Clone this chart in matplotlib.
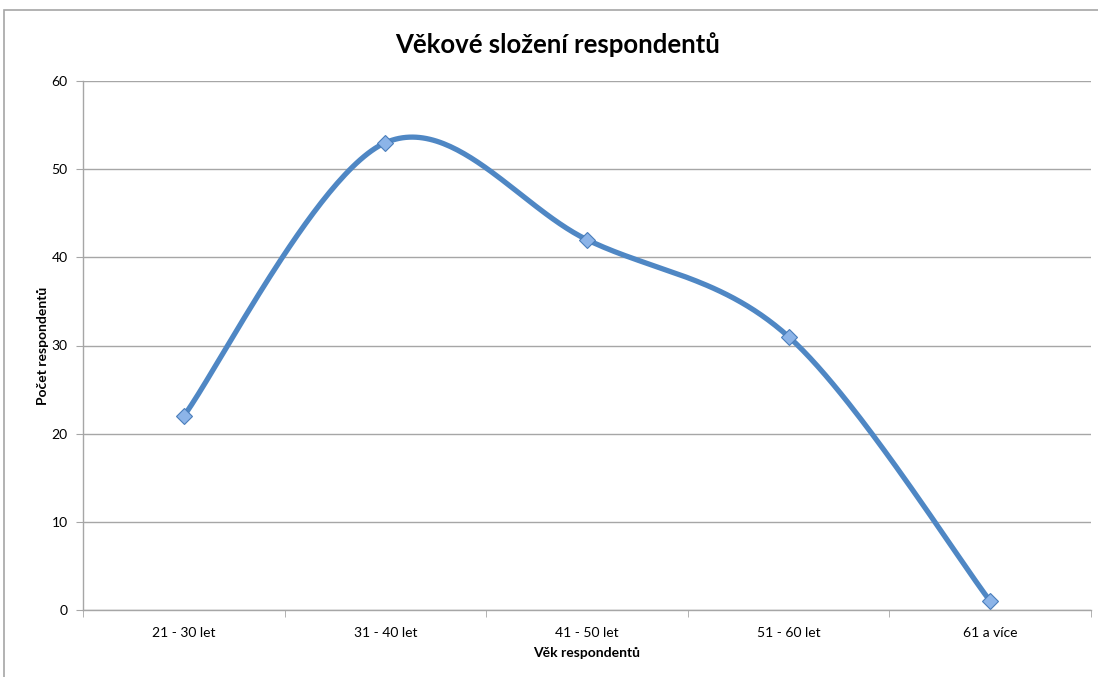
import numpy as np
import matplotlib
matplotlib.use("Agg")
import matplotlib.pyplot as plt
from matplotlib.patches import Rectangle

# donnees du graphique
kategorie = ["21 - 30 let", "31 - 40 let", "41 - 50 let", "51 - 60 let", "61 a více"]
pocet = [22, 53, 42, 31, 1]
y_ticks = [0, 10, 20, 30, 40, 50, 60]

plt.rcParams['font.family'] = ['Lato', 'DejaVu Sans']

fig = plt.figure(figsize=(10.98, 6.77), dpi=100)
ax = fig.add_axes([83 / 1098, 67 / 677, 1008 / 1098, 529 / 677])

# ramecek grafu (jako v Excelu)
fig.patches.append(Rectangle((4 / 1098, -0.1), 1.2, 1.1 - 10 / 677,
                             transform=fig.transFigure, fill=False,
                             edgecolor='#a6a6a6', linewidth=1.2))

# vyhlazena cara (Bezier jako Excel)
x = np.arange(len(pocet), dtype=float)
y = np.array(pocet, dtype=float)
px = np.concatenate([[x[0]], x, [x[-1]]])
py = np.concatenate([[y[0]], y, [y[-1]]])
t = np.linspace(0, 1, 60)
cx, cy = [], []
for i in range(len(x) - 1):
    p0 = np.array([px[i + 1], py[i + 1]])
    p1 = np.array([px[i + 2], py[i + 2]])
    c1 = p0 + (p1 - np.array([px[i], py[i]])) / 6
    c2 = p1 - (np.array([px[i + 3], py[i + 3]]) - p0) / 6
    b = ((1 - t) ** 3)[:, None] * p0 + (3 * (1 - t) ** 2 * t)[:, None] * c1 \
        + (3 * (1 - t) * t ** 2)[:, None] * c2 + (t ** 3)[:, None] * p1
    cx.extend(b[:, 0])
    cy.extend(b[:, 1])

ax.plot(cx, cy, color='#4F87C4', linewidth=3.8, solid_capstyle='round', zorder=3)
ax.plot(x, y, linestyle='none', marker='D', markersize=8,
        markerfacecolor='#8CB4E8', markeredgecolor='#4A7EBB', markeredgewidth=0.8, zorder=4)

ax.set_xlim(-0.5, len(pocet) - 0.5)
ax.set_ylim(0, 60)
ax.set_yticks(y_ticks)
ax.set_xticks(x)
ax.set_xticklabels(kategorie)
ax.set_xticks(np.arange(-0.5, len(pocet), 1.0), minor=True)

ax.grid(axis='y', color='#a6a6a6', linewidth=1)
ax.set_axisbelow(True)
for s in ['top', 'right']:
    ax.spines[s].set_visible(False)
for s in ['left', 'bottom']:
    ax.spines[s].set_color('#a6a6a6')
    ax.spines[s].set_linewidth(1)

ax.tick_params(axis='x', which='major', length=0, labelsize=10, pad=12)
ax.tick_params(axis='x', which='minor', length=5, color='#a6a6a6', direction='out')
ax.tick_params(axis='y', length=5, color='#a6a6a6', labelsize=10, pad=6)

fig.text(558 / 1098, 1 - 45 / 677, "Věkové složení respondentů", fontsize=18.5,
         fontweight='bold', ha='center', va='center')
ax.set_xlabel("Věk respondentů", fontsize=10, fontweight='bold', labelpad=6)
ax.set_ylabel("Počet respondentů", fontsize=10, fontweight='bold', labelpad=2)

fig.savefig("out.png", dpi=100)
